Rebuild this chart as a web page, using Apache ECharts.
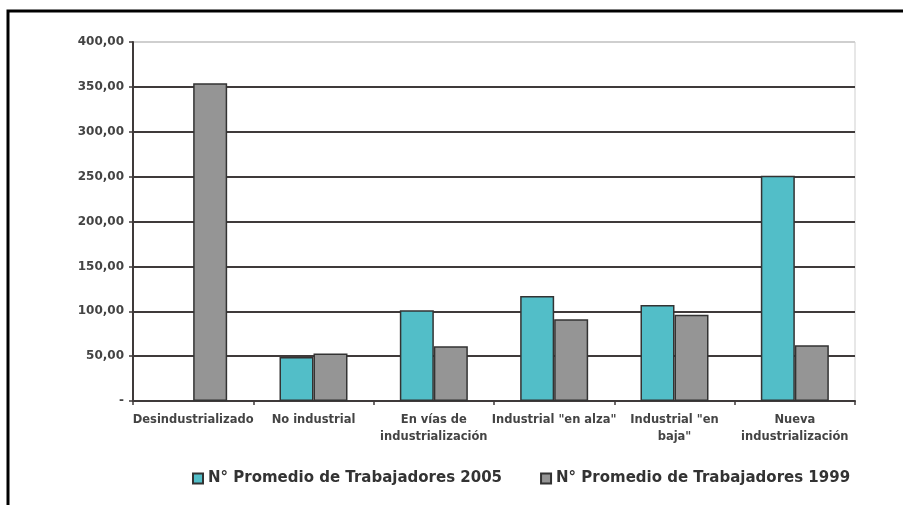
<!DOCTYPE html>
<html>
<head>
<meta charset="utf-8">
<script src="https://cdn.jsdelivr.net/npm/echarts@6/dist/echarts.min.js"></script>
<style>
  html, body { margin: 0; padding: 0; background: #fff; }
  #main { width: 903px; height: 505px; }
</style>
</head>
<body>
<div id="main"></div>
<script>
// categories and values
var categories = ['Desindustrializado', 'No industrial', 'En vías de\nindustrialización',
  'Industrial "en alza"', 'Industrial "en\nbaja"', 'Nueva\nindustrialización'];
var trab2005 = [null, 49, 101, 117, 107, 251];
var trab1999 = [354, 53, 61, 91, 96, 62];
var seriesNames = ['N° Promedio de Trabajadores 2005', 'N° Promedio de Trabajadores 1999'];
var yTicks = [0, 50, 100, 150, 200, 250, 300, 350, 400];

var chart = echarts.init(document.getElementById('main'));

var gridColors = yTicks.map(function (v, i) {
  return i === yTicks.length - 1 ? '#cfcfcf' : '#3f3a3a';
});

var option = {
  animation: false,
  textStyle: { fontFamily: '"DejaVu Sans", sans-serif' },
  graphic: [{
    type: 'polyline',
    shape: { points: [[8, 505], [8, 11], [903, 11]] },
    style: { stroke: '#000', lineWidth: 3, fill: null }
  }],
  grid: {
    left: 133, right: 48, top: 42, bottom: 104,
    show: true, borderColor: '#cfcfcf', borderWidth: 1
  },
  legend: {
    top: 466, left: 187,
    itemWidth: 10, itemHeight: 10, itemGap: 38,
    icon: 'rect',
    textStyle: { fontSize: 15, fontWeight: 'bold', color: '#333', fontFamily: '"DejaVu Sans", sans-serif' },
    data: seriesNames
  },
  xAxis: {
    type: 'category',
    data: categories,
    axisLine: { lineStyle: { color: '#3f3a3a', width: 2 } },
    axisTick: { show: true, length: 4, lineStyle: { color: '#3f3a3a', width: 1.5 } },
    axisLabel: { fontSize: 11.5, fontWeight: 'bold', color: '#444', margin: 11, lineHeight: 17, interval: 0 },
    splitLine: { show: false }
  },
  yAxis: {
    type: 'value',
    min: 0, max: 400, interval: 50,
    axisLine: { show: true, lineStyle: { color: '#3f3a3a', width: 2 } },
    axisTick: { show: true, length: 4, lineStyle: { color: '#3f3a3a', width: 1.5 } },
    axisLabel: {
      fontSize: 12, fontWeight: 'bold', color: '#444', margin: 9,
      formatter: function (v) { return v === 0 ? '-' : v.toFixed(2).replace('.', ','); }
    },
    splitLine: { show: true, lineStyle: { color: gridColors, width: 2 } }
  },
  series: [{
    name: seriesNames[0],
    type: 'bar',
    data: trab2005,
    barWidth: 34,
    barGap: '0%',
    itemStyle: { color: '#52bec8', borderColor: '#333', borderWidth: 1.5 }
  }, {
    name: seriesNames[1],
    type: 'bar',
    data: trab1999,
    barWidth: 34,
    itemStyle: { color: '#959595', borderColor: '#333', borderWidth: 1.5 }
  }]
};

chart.setOption(option);
window.addEventListener('resize', chart.resize);
</script>
</body>
</html>
